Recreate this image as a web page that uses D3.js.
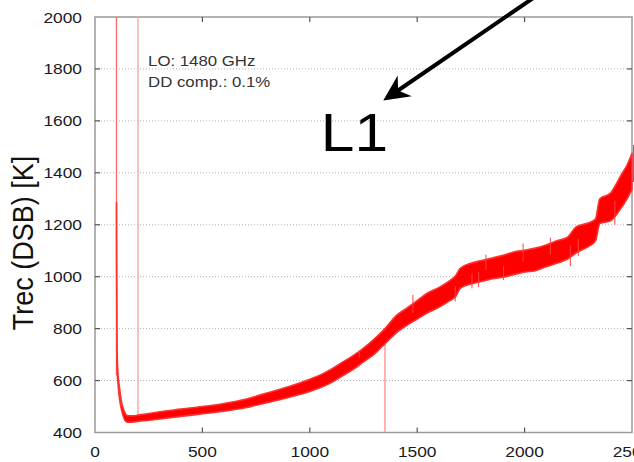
<!DOCTYPE html>
<html>
<head>
<meta charset="utf-8">
<script src="https://cdn.jsdelivr.net/npm/d3@7"></script>
<style>
  body { margin: 0; background: #fff; }
  svg { display: block; }
  text { font-family: "Liberation Sans", Arial, Helvetica, sans-serif; }
</style>
</head>
<body>
<svg id="chart" width="634" height="462"></svg>
<script>
// IF frequency [MHz] and the envelope of the noisy Trec trace [K]
const freq = [100, 103, 106, 110, 116, 124, 135, 150, 175, 200, 250, 300, 400, 500, 600, 700, 750, 800, 900,
  1000, 1050, 1100, 1150, 1200, 1250, 1300, 1350, 1400, 1450, 1500, 1550, 1600, 1650, 1680, 1700, 1750,
  1800, 1850, 1900, 1950, 2000, 2050, 2100, 2150, 2200, 2240, 2300, 2330, 2350, 2400, 2450, 2480, 2500];
const trecLow = [1110, 640, 600, 560, 520, 485, 455, 440, 440, 443, 447, 452, 462, 472, 482, 495, 505, 515, 535,
  558, 573, 592, 617, 642, 672, 702, 742, 782, 812, 837, 862, 882, 907, 925, 955, 972,
  982, 992, 998, 1008, 1018, 1023, 1038, 1052, 1068, 1092, 1118, 1138, 1205, 1215, 1265, 1305, 1335];
const trecHigh = [1285, 720, 640, 600, 560, 515, 485, 465, 464, 467, 473, 480, 490, 500, 512, 528, 540, 552, 576,
  605, 622, 644, 670, 695, 725, 760, 800, 848, 878, 908, 938, 958, 984, 1005, 1032, 1052,
  1062, 1072, 1082, 1095, 1102, 1110, 1122, 1138, 1152, 1192, 1208, 1222, 1300, 1322, 1392, 1435, 1475];

// single outlying samples that stick out of the band: [freq, Trec]
const spikes = [[1677, 905], [1755, 955], [1786, 960], [1902, 987], [1993, 1128], [2213, 1040],
  [2250, 1080], [2420, 1200], [1230, 715], [1480, 930], [1820, 1085], [2120, 1150]];

// marker lines: [freq, from Trec, to Trec, colour]
const markers = [[100, 2000, 620, "#ff6666"], [200, 2000, 455, "#ff9c9c"], [1350, 770, 400, "#ff8a8a"]];

const xTicks = [0, 500, 1000, 1500, 2000, 2500];
const yTicks = [400, 600, 800, 1000, 1200, 1400, 1600, 1800, 2000];
const infoLines = ["LO: 1480 GHz", "DD comp.: 0.1%"];

const svg = d3.select("#chart");
const plotLeft = 95, plotRight = 632, plotTop = 17, plotBottom = 432.5;
const stretch = 1.12; // source picture is a little wider than tall

const x = d3.scaleLinear().domain([0, 2500]).range([plotLeft, plotRight]);
const y = d3.scaleLinear().domain([400, 2000]).range([plotBottom, plotTop]);

function label(g, px, py, str, size, anchor, rot) {
  return g.append("text")
    .attr("transform", "translate(" + px + "," + py + ") scale(" + stretch + ",1)" + (rot ? " rotate(" + rot + ")" : ""))
    .attr("text-anchor", anchor)
    .style("font-size", size + "px")
    .text(str);
}

// grid
svg.append("g").selectAll("line")
  .data(yTicks.slice(1, -1))
  .join("line")
  .attr("x1", plotLeft).attr("x2", plotRight)
  .attr("y1", d => y(d)).attr("y2", d => y(d))
  .attr("stroke", "#b0b0b0")
  .attr("stroke-dasharray", "1,2");

// frame
svg.append("rect")
  .attr("x", plotLeft).attr("y", plotTop)
  .attr("width", plotRight - plotLeft).attr("height", plotBottom - plotTop)
  .attr("fill", "none").attr("stroke", "#9a9a9a").attr("stroke-width", 1.5);

// ticks on all sides, pointing inwards
const ticks = svg.append("g").attr("stroke", "#555").attr("stroke-width", 1.2);
xTicks.slice(1, -1).forEach(d => {
  ticks.append("line").attr("x1", x(d)).attr("x2", x(d)).attr("y1", plotBottom).attr("y2", plotBottom - 5);
  ticks.append("line").attr("x1", x(d)).attr("x2", x(d)).attr("y1", plotTop).attr("y2", plotTop + 5);
});
yTicks.slice(1, -1).forEach(d => {
  ticks.append("line").attr("x1", plotLeft).attr("x2", plotLeft + 5).attr("y1", y(d)).attr("y2", y(d));
  ticks.append("line").attr("x1", plotRight).attr("x2", plotRight - 5).attr("y1", y(d)).attr("y2", y(d));
});

// tick labels
const tl = svg.append("g").attr("fill", "#1a1a1a");
xTicks.forEach(d => label(tl, x(d), 457, d, 15.5, "middle"));
yTicks.forEach(d => label(tl, 82, y(d) + 5.5, d, 15.5, "end"));

// axis title
label(svg.append("g").attr("fill", "#111"), 33, 243, "Trec (DSB) [K]", 27, "middle", -90);

// marker lines
svg.append("g").selectAll("line")
  .data(markers)
  .join("line")
  .attr("x1", d => x(d[0])).attr("x2", d => x(d[0]))
  .attr("y1", d => y(d[1])).attr("y2", d => y(d[2]))
  .attr("stroke", d => d[3])
  .attr("stroke-width", 1.3);

// noisy trace as a band
const band = d3.area()
  .x((d, i) => x(freq[i]))
  .y0((d, i) => y(trecLow[i]))
  .y1((d, i) => y(trecHigh[i]))
  .curve(d3.curveMonotoneX);

svg.append("path")
  .attr("d", band(freq))
  .attr("fill", "#ff0000")
  .attr("stroke", "#ff3030")
  .attr("stroke-width", 1.6)
  .attr("stroke-linejoin", "round");

// spikes start from the middle of the band at that frequency
const mid = f => (d3.scaleLinear().domain(freq).range(trecLow)(f) + d3.scaleLinear().domain(freq).range(trecHigh)(f)) / 2;
svg.append("g").selectAll("line")
  .data(spikes)
  .join("line")
  .attr("x1", d => x(d[0])).attr("x2", d => x(d[0]))
  .attr("y1", d => y(mid(d[0]))).attr("y2", d => y(d[1]))
  .attr("stroke", "#ff4040")
  .attr("stroke-width", 1);

// info text
const info = svg.append("g").attr("fill", "#333");
infoLines.forEach((s, i) => label(info, x(247), y(1812) + i * 21.6, s, 15, "start"));

// L1 annotation, and the edge of the next label that the crop cuts
label(svg.append("g").attr("fill", "#000"), x(1051), y(1485), "L1", 54, "start");
label(svg.append("g").attr("fill", "#000"), 628.6, 182, "L2", 54, "start");

const tip = [x(1342), y(1678)], tail = [x(2100), y(2107)];
const ang = Math.atan2(tail[1] - tip[1], tail[0] - tip[0]);
const arrow = svg.append("g")
  .attr("transform", "translate(" + tip[0] + "," + tip[1] + ") rotate(" + (ang * 180 / Math.PI) + ")");
const len = Math.hypot(tail[0] - tip[0], tail[1] - tip[1]);
arrow.append("line")
  .attr("x1", 17).attr("x2", len).attr("y1", 0).attr("y2", 0)
  .attr("stroke", "#000").attr("stroke-width", 4);
arrow.append("path")
  .attr("d", "M0,0 L26,-12.5 L18,0 L26,12.5 Z")
  .attr("fill", "#000");
</script>
</body>
</html>
